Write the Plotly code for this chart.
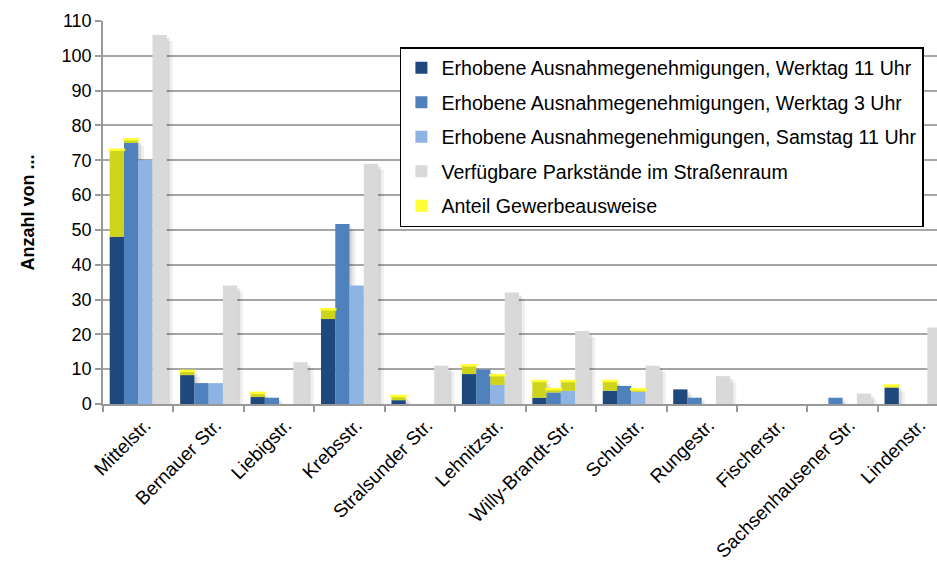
import plotly.graph_objects as go

cats = ["Mittelstr.", "Bernauer Str.", "Liebigstr.", "Krebsstr.", "Stralsunder Str.",
        "Lehnitzstr.", "Willy-Brandt-Str.", "Schulstr.", "Rungestr.", "Fischerstr.",
        "Sachsenhausener Str.", "Lindenstr."]

werktag11 = [48, 8.3, 2, 24.4, 1.1, 8.6, 1.8, 3.8, 4.2, 0, 0, 4.7]
werktag11_gew = [25, 1.2, 1.2, 2.8, 1.2, 2.5, 4.8, 2.8, 0, 0, 0, 0.6]
werktag3 = [75, 6, 1.8, 51.7, 0, 9.9, 3.3, 5.2, 1.8, 0, 1.8, 0]
werktag3_gew = [1.0, 0, 0, 0, 0, 0, 1.0, 0, 0, 0, 0, 0]
samstag11 = [70, 6, 0, 34, 0, 5.5, 3.8, 3.5, 0, 0, 0, 0]
samstag11_gew = [0, 0, 0, 0, 0, 2.8, 2.8, 0.7, 0, 0, 0, 0]
parkstaende = [106, 34, 12, 69, 11, 32, 21, 11, 8, 0, 3, 22]

y_ticks = list(range(0, 111, 10))

names = ["Erhobene Ausnahmegenehmigungen, Werktag 11 Uhr",
         "Erhobene Ausnahmegenehmigungen, Werktag 3 Uhr",
         "Erhobene Ausnahmegenehmigungen, Samstag 11 Uhr",
         "Verfügbare Parkstände im Straßenraum",
         "Anteil Gewerbeausweise"]

colors = ["#1F497D", "#4F81BD", "#8EB4E3", "#D9D9D9"]
gew_color = "#CDD41B"
gew_top = "#FFFF33"

FONT = "Liberation Sans, Arial, sans-serif"
BARGAP = 0.19
XR = [-0.5, 11.34]
PX_X = (XR[1] - XR[0]) / 834.0    # x units per pixel
PX_Y = 110 / 383.0                # y units per pixel

fig = go.Figure()

base_series = [werktag11, werktag3, samstag11, parkstaende]
gew_series = [werktag11_gew, werktag3_gew, samstag11_gew, None]
w = (1 - BARGAP) / 4
n = len(cats)

for k, (vals, gew) in enumerate(zip(base_series, gew_series)):
    xs = [i - (1 - BARGAP) / 2 + (k + 0.5) * w for i in range(n)]
    tops = [v + (gew[i] if gew is not None else 0) for i, v in enumerate(vals)]
    # soft drop shadow (two layers)
    for off, alpha in ((6, 0.06), (3, 0.10)):
        fig.add_trace(go.Bar(
            x=[x + off * PX_X for x in xs],
            y=[max(t - off * PX_Y, 0) if t > 0 else 0 for t in tops],
            width=w, marker=dict(color=f"rgba(0,0,0,{alpha})", line=dict(width=0)),
            showlegend=False, hoverinfo="skip"))
    fig.add_trace(go.Bar(x=xs, y=vals, width=w, name=names[k],
                         marker=dict(color=colors[k], line=dict(width=0)),
                         legendgroup=str(k), legendrank=k))
    if gew is not None:
        fig.add_trace(go.Bar(x=xs, y=gew, base=vals, width=w,
                             marker=dict(color=gew_color, line=dict(width=0)),
                             showlegend=False, hoverinfo="skip"))
        sx = [xs[i] for i in range(n) if gew[i] > 0]
        sy = [tops[i] for i in range(n) if gew[i] > 0]
        fig.add_trace(go.Scatter(x=sx, y=sy, mode="markers",
                                 marker=dict(symbol="line-ew", size=12,
                                             line=dict(color=gew_top, width=2.5)),
                                 showlegend=False, hoverinfo="skip"))

# legend entry for Anteil Gewerbeausweise
fig.add_trace(go.Scatter(x=[None], y=[None], mode="markers",
                         name=names[4], legendgroup="4", legendrank=4,
                         marker=dict(symbol="square", size=13, color=gew_top)))

fig.update_layout(
    width=937, height=565,
    margin=dict(l=103, r=0, t=21, b=161),
    paper_bgcolor="white", plot_bgcolor="white",
    barmode="overlay",
    font=dict(family=FONT, size=18, color="#000000"),
    showlegend=True,
    legend=dict(x=0.356, y=0.932, xanchor="left", yanchor="top",
                bgcolor="white", bordercolor="#000000", borderwidth=1.5,
                font=dict(size=19.6, color="#000000"),
                tracegroupgap=6, itemsizing="constant"),
    xaxis=dict(range=XR, automargin=False,
               tickmode="array", tickvals=list(range(n)), ticktext=cats,
               ticks="", showline=True, linecolor="#999999", linewidth=1.5,
               showgrid=False, zeroline=False, tickangle=-45,
               ticklabelstandoff=1, ticklabelshift=7,
               minor=dict(tickmode="linear", tick0=0.5, dtick=1, ticks="outside",
                          ticklen=6, tickcolor="#999999", tickwidth=1.5,
                          showgrid=False),
               tickfont=dict(size=19, color="#000000")),
    yaxis=dict(range=[0, 110], tickmode="array", tickvals=y_ticks,
               automargin=False, ticks="outside", ticklen=6,
               tickcolor="#999999", tickwidth=1.5, showline=True, linecolor="#999999",
               linewidth=1.5, showgrid=True, gridcolor="#A6A6A6", gridwidth=1.5,
               zeroline=False, tickfont=dict(size=18, color="#000000"),
               title=dict(text="<b>Anzahl von ...</b>", font=dict(size=18),
                          standoff=22)),
)

fig.write_html("out.html", config={"displayModeBar": False},
               post_script="document.body.style.margin='0';document.body.style.padding='0';")
